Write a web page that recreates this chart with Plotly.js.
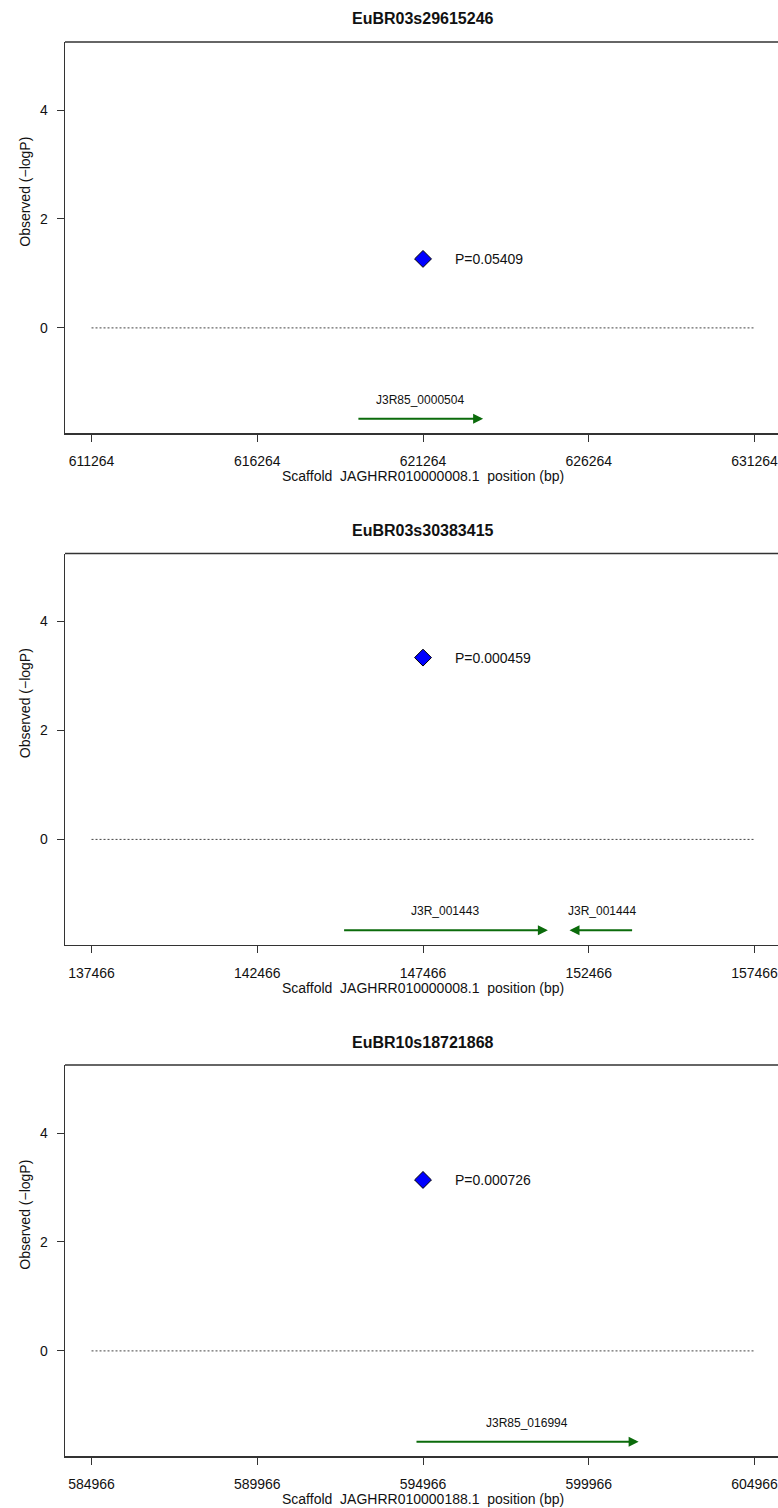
<!DOCTYPE html>
<html><head><meta charset="utf-8">
<script src="https://cdn.plot.ly/plotly-3.0.1.min.js"></script>
<style>html,body{margin:0;padding:0;background:#fff;overflow:hidden}</style>
</head><body><div id="chart" style="width:778px;height:1508px"></div>
<script>
// ---- data ----
const snpNames = ['EuBR03s29615246', 'EuBR03s30383415', 'EuBR10s18721868'];
const snpPositions = [621264, 147466, 594966];
const pValues = [0.05409, 0.000459, 0.000726];
const scaffolds = ['JAGHRR010000008.1', 'JAGHRR010000008.1', 'JAGHRR010000188.1'];
const tickOffsets = [-10000, -5000, 0, 5000, 10000];
const yTicks = [0, 2, 4];
const geneNames = ['J3R85_0000504', 'J3R_001443', 'J3R_001444', 'J3R85_016994'];
const genePanels = [0, 1, 1, 2];
const geneStarts = [619270, 145040, 151886, 594724];
const geneEnds = [623077, 151233, 153819, 601471];
const geneStrands = ['+', '+', '-', '+'];

// ---- layout constants ----
const W = 778, H = 1508;
const panelStep = 511.5;
const boxTop = 42, boxBottom = 433, boxLeft = 65;
const yRange = [-1.93, 5.25];
const geneY = -1.67, geneLabelY = -1.32;
const green = '#0b6b0b';

const traces = [];
const annotations = [];
const shapes = [];
const layout = {
  width: W, height: H,
  margin: {l: 0, r: 0, t: 0, b: 0},
  paper_bgcolor: '#fff', plot_bgcolor: '#fff',
  showlegend: false,
  font: {family: 'Liberation Sans, Arial, sans-serif', color: '#111'},
  annotations: annotations,
  shapes: shapes
};

function py(px) { return 1 - px / H; }

for (let i = 0; i < 3; i++) {
  const off = i * panelStep;
  const c = snpPositions[i];
  const sfx = i === 0 ? '' : String(i + 1);
  const xa = 'x' + sfx, ya = 'y' + sfx;
  layout['xaxis' + sfx] = {
    domain: [boxLeft / W, 1],
    range: [c - 10800, c + 10709],
    tickmode: 'array',
    tickvals: tickOffsets.map(d => c + d),
    ticktext: tickOffsets.map(d => String(c + d)),
    showline: true, linecolor: '#333', linewidth: 1.5,
    ticks: 'outside', ticklen: 7, tickwidth: 1, tickcolor: '#333',
    tickfont: {size: 14, color: '#111'},
    ticklabelstandoff: 8,
    ticklabeloverflow: 'allow',
    showgrid: false, zeroline: false,
    anchor: ya, fixedrange: true
  };
  layout['yaxis' + sfx] = {
    domain: [py(boxBottom + off), py(boxTop + off)],
    range: yRange,
    tickmode: 'array', tickvals: yTicks, ticktext: yTicks.map(String),
    showline: true, linecolor: '#333', linewidth: 1.5,
    ticks: 'outside', ticklen: 7, tickwidth: 1, tickcolor: '#333',
    tickfont: {size: 14, color: '#111'},
    ticklabelstandoff: 6,
    showgrid: false, zeroline: false,
    anchor: xa, fixedrange: true
  };
  // top border
  shapes.push({type: 'line', xref: xa + ' domain', yref: ya + ' domain',
    x0: 0, x1: 1, y0: 1, y1: 1, line: {color: '#333', width: 1.5}});

  // dotted zero line
  traces.push({
    type: 'scatter', mode: 'lines', xaxis: xa, yaxis: ya,
    x: [c + tickOffsets[0], c + tickOffsets[tickOffsets.length - 1]], y: [0, 0],
    line: {color: '#444', width: 1, dash: '2px,2px'}, hoverinfo: 'skip'
  });
  // SNP point
  const lp = -Math.log10(pValues[i]);
  traces.push({
    type: 'scatter', mode: 'markers', xaxis: xa, yaxis: ya,
    x: [c], y: [lp],
    marker: {symbol: 'diamond', size: 13, color: '#0000ff', line: {color: '#000', width: 1}}
  });
  annotations.push({xref: xa, yref: ya, x: c, y: lp, text: 'P=' + String(pValues[i]),
    showarrow: false, xanchor: 'left', xshift: 30, font: {size: 14, color: '#111'}});

  // title
  annotations.push({xref: 'paper', yref: 'paper', x: 423 / W, y: py(19 + off),
    text: '<b>' + snpNames[i] + '</b>', showarrow: false, xanchor: 'center', yanchor: 'middle',
    font: {size: 16, color: '#111'}});
  // x axis title
  annotations.push({xref: 'paper', yref: 'paper', x: 423 / W, y: py(476 + off),
    text: 'Scaffold\u00a0 ' + scaffolds[i] + '\u00a0 position (bp)', showarrow: false,
    xanchor: 'center', yanchor: 'middle', font: {size: 14, color: '#111'}});
  // y axis title
  annotations.push({xref: 'paper', yref: ya, x: 25 / W, y: 2.5,
    text: 'Observed (\u2212logP)', textangle: -90, showarrow: false,
    xanchor: 'center', yanchor: 'middle', font: {size: 14, color: '#111'}});
}

// genes
for (let g = 0; g < geneNames.length; g++) {
  const i = genePanels[g];
  const sfx = i === 0 ? '' : String(i + 1);
  const xa = 'x' + sfx, ya = 'y' + sfx;
  const tail = geneStrands[g] === '+' ? geneStarts[g] : geneEnds[g];
  const head = geneStrands[g] === '+' ? geneEnds[g] : geneStarts[g];
  annotations.push({xref: xa, yref: ya, axref: xa, ayref: ya,
    x: head, y: geneY, ax: tail, ay: geneY, text: '', showarrow: true,
    arrowhead: 2, arrowsize: 1, arrowwidth: 2, arrowcolor: green, standoff: 0, startstandoff: 0});
  annotations.push({xref: xa, yref: ya, x: (geneStarts[g] + geneEnds[g]) / 2, y: geneLabelY,
    text: geneNames[g], showarrow: false, xanchor: 'center', yanchor: 'middle',
    font: {size: 12, color: '#111'}});
}

Plotly.newPlot('chart', traces, layout, {staticPlot: true, displayModeBar: false});
</script>
</body></html>
